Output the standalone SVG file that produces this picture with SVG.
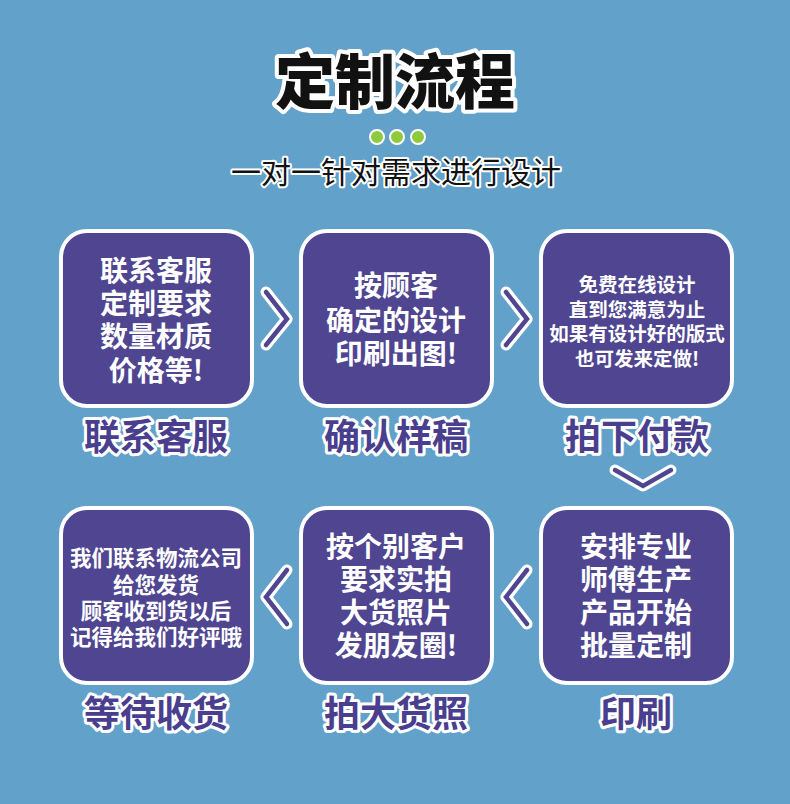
<svg xmlns="http://www.w3.org/2000/svg" width="790" height="804" viewBox="0 0 790 804">
<style>
text{font-family:"Noto Sans CJK SC","Noto Sans",sans-serif;font-weight:700;text-anchor:middle}
.box{fill:#4f4591;stroke:#fff;stroke-width:4}
.t{fill:#fff;font-size:28px}
.ts{fill:#fff;font-size:19.5px}
.tm{fill:#fff;font-size:21.5px}
.lab{fill:#4a3f8e;stroke:#fff;stroke-width:6;paint-order:stroke;stroke-linejoin:round;font-size:36px}
.cw{fill:none;stroke:#fff;stroke-width:11;stroke-linecap:round;stroke-linejoin:round}
.cp{fill:none;stroke:#4f4591;stroke-width:4.5;stroke-linecap:round;stroke-linejoin:miter}
</style>
<rect width="790" height="804" fill="#62a1c9"/>
<g id="title">
<text x="395" y="104" font-size="60" fill="#111" stroke="#fff" stroke-width="8" paint-order="stroke" stroke-linejoin="round" style="font-weight:900">定制流程</text>
<circle cx="377" cy="137" r="7" fill="#8fca3c" stroke="#fff" stroke-width="2"/>
<circle cx="397" cy="137" r="7" fill="#8fca3c" stroke="#fff" stroke-width="2"/>
<circle cx="418" cy="137" r="7" fill="#8fca3c" stroke="#fff" stroke-width="2"/>
<text x="396" y="183" font-size="30" fill="#111" stroke="#fff" stroke-width="4" paint-order="stroke" stroke-linejoin="round" style="font-weight:400">一对一针对需求进行设计</text>
</g>
<g id="node1">
<rect class="box" x="61" y="231" width="191" height="175" rx="26"/>
<text class="t" x="156" y="281"><tspan x="156">联系客服</tspan><tspan x="156" dy="33">定制要求</tspan><tspan x="156" dy="33">数量材质</tspan><tspan x="156" dy="34">价格等!</tspan></text>
<text class="lab" x="156" y="450">联系客服</text>
</g>
<g id="node2">
<rect class="box" x="301" y="231" width="191" height="175" rx="26"/>
<text class="t" x="396" y="296"><tspan x="396">按顾客</tspan><tspan x="396" dy="35">确定的设计</tspan><tspan x="396" dy="33">印刷出图!</tspan></text>
<text class="lab" x="396" y="450">确认样稿</text>
</g>
<g id="node3">
<rect class="box" x="541" y="231" width="191" height="175" rx="26"/>
<text class="ts" x="637" y="292"><tspan x="637">免费在线设计</tspan><tspan x="637" dy="24.5">直到您满意为止</tspan><tspan x="637" dy="24.5">如果有设计好的版式</tspan><tspan x="637" dy="25">也可发来定做!</tspan></text>
<text class="lab" x="637" y="450">拍下付款</text>
</g>
<g id="node4">
<rect class="box" x="541" y="508" width="191" height="175" rx="26"/>
<text class="t" x="636" y="557"><tspan x="636">安排专业</tspan><tspan x="636" dy="33">师傅生产</tspan><tspan x="636" dy="33">产品开始</tspan><tspan x="636" dy="33">批量定制</tspan></text>
<text class="lab" x="636" y="727">印刷</text>
</g>
<g id="node5">
<rect class="box" x="301" y="508" width="191" height="175" rx="26"/>
<text class="t" x="396" y="557"><tspan x="396">按个别客户</tspan><tspan x="396" dy="33">要求实拍</tspan><tspan x="396" dy="33">大货照片</tspan><tspan x="396" dy="33">发朋友圈!</tspan></text>
<text class="lab" x="396" y="727">拍大货照</text>
</g>
<g id="node6">
<rect class="box" x="61" y="508" width="191" height="175" rx="26"/>
<text class="tm" x="156" y="566"><tspan x="156">我们联系物流公司</tspan><tspan x="156" dy="27">给您发货</tspan><tspan x="156" dy="26">顾客收到货以后</tspan><tspan x="156" dy="26">记得给我们好评哦</tspan></text>
<text class="lab" x="156" y="727">等待收货</text>
</g>
<g id="connectors">
<path class="cw" d="M266,292 L287,319 L266,345"/>
<path class="cp" d="M266,292 L287,319 L266,345"/>
<path class="cw" d="M506,292 L527,319 L506,345"/>
<path class="cp" d="M506,292 L527,319 L506,345"/>
<path class="cw" d="M615,470 L643,486 L671,470"/>
<path class="cp" d="M615,470 L643,486 L671,470"/>
<path class="cw" d="M527,570 L506,597 L527,624"/>
<path class="cp" d="M527,570 L506,597 L527,624"/>
<path class="cw" d="M287,570 L266,597 L287,624"/>
<path class="cp" d="M287,570 L266,597 L287,624"/>
</g>
</svg>
